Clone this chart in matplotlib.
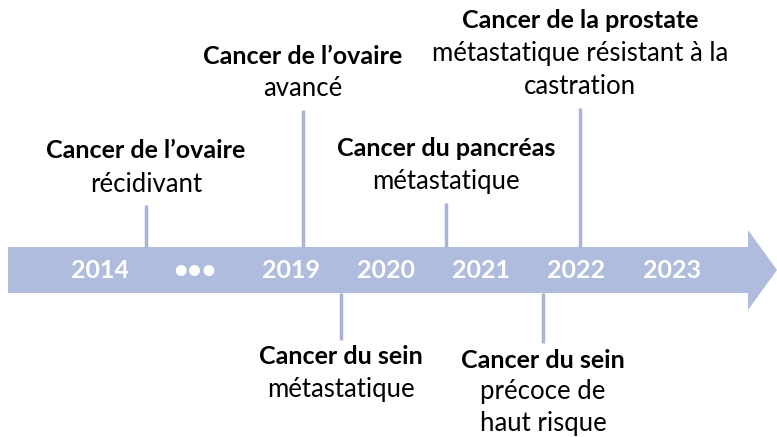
import matplotlib.pyplot as plt
from matplotlib.patches import Polygon

# timeline categories (slots along the arrow)
years = ["2014", "\u2022\u2022\u2022", "2019", "2020", "2021", "2022", "2023"]

# events: position on the timeline (in slot units), side, title, description lines
event_pos = [0.48, 2.13, 3.63, 5.04, 2.53, 4.65]
event_side = ["up", "up", "up", "up", "down", "down"]
event_stem = [42, 137, 44, 139, 47, 50]
event_title = ["Cancer de l\u2019ovaire", "Cancer de l\u2019ovaire", "Cancer du pancréas",
               "Cancer de la prostate", "Cancer du sein", "Cancer du sein"]
event_desc = [["récidivant"], ["avancé"], ["métastatique"],
              ["métastatique résistant à la", "castration"],
              ["métastatique"], ["précoce de", "haut risque"]]

arrow_col = "#b0bcdd"
stem_col = "#a8b3d6"
font = "Lato"

fig = plt.figure(figsize=(7.77, 4.37), dpi=100)
ax = fig.add_axes([0, 0, 1, 1])
step = 95.3
ax.set_xlim(-100 / step, (777 - 100) / step)
ax.set_ylim(437, 0)
ax.axis("off")

x0, x1 = ax.get_xlim()
px = lambda p: x0 + p / step
top, bot = 247, 293
body = Polygon([(px(8), top), (px(748), top), (px(748), 230), (px(777), 270),
                (px(748), 310), (px(748), bot), (px(8), bot)],
               closed=True, facecolor=arrow_col, edgecolor="none")
ax.add_patch(body)

for i, y in enumerate(years):
    ax.text(i, 271, y, color="white", fontsize=18, fontweight="bold",
            ha="center", va="center", family=font)

line_h = 33
for pos, side, stem, title, desc in zip(event_pos, event_side, event_stem, event_title, event_desc):
    if side == "up":
        ax.plot([pos, pos], [top, top - stem], color=stem_col, lw=2.5, solid_capstyle="butt")
        lines = [title] + desc
        y_last = top - stem - 21
        ys = [y_last - line_h * (len(lines) - 1 - k) for k in range(len(lines))]
    else:
        ax.plot([pos, pos], [bot, bot + stem], color=stem_col, lw=2.5, solid_capstyle="butt")
        lines = [title] + desc
        ys = [bot + stem + 17 + 32 * k for k in range(len(lines))]
    for k, (txt, yy) in enumerate(zip(lines, ys)):
        ax.text(pos, yy, txt, ha="center", va="center",
                fontsize=18 if k == 0 else 18.5, color="black",
                fontweight="bold" if k == 0 else "normal", family=font)

fig.savefig("out.png", dpi=100, facecolor="white")
